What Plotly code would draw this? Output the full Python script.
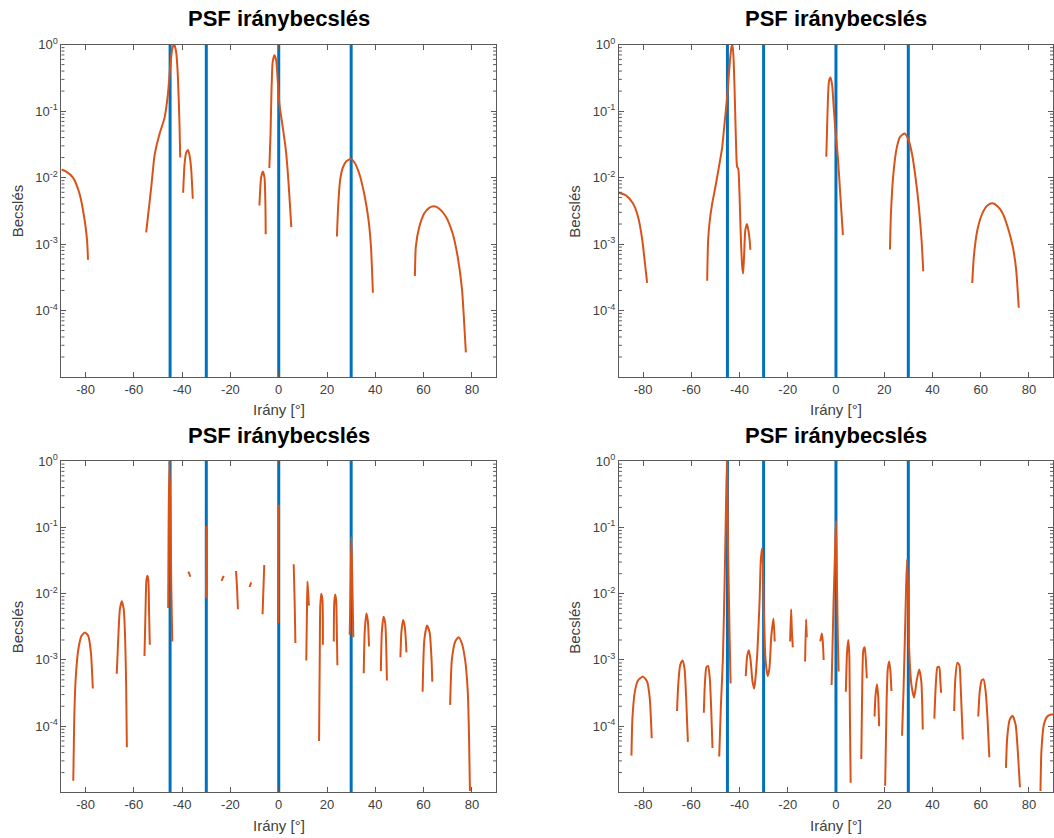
import plotly.graph_objects as go

# ---------------- data ----------------
doa = [-45, -30, 0, 30]                       # true directions (blue lines)
xtick_vals = [-80, -60, -40, -20, 0, 20, 40, 60, 80]
ytick_exps = [-4, -3, -2, -1, 0]
title_text = "PSF iránybecslés"
xlabel_text = "Irány [°]"
ylabel_text = "Becslés"

# top-left panel (segments separated by None)
tl_x = [-90, -88, -85.2, -82.5, -80.4, -79.4, -79.0, None,
        -54.9, -52.8, -51.4, -49.4, -47.3, -45.9, -45.0, -44.1, -43.3, -42.5, -41.8, -41.1, -40.8, None,
        -39.6, -39.0, -38.3, -37.6, -37.0, -36.3, -35.6, None,
        -8.0, -7.3, -6.6, -5.9, -5.5, -5.4, None,
        -3.9, -3.4, -3.0, -2.5, -1.8, -1.1, -0.4, 0.3, 1.7, 3.0, 4.0, 4.7, 5.2, None,
        24.1, 24.6, 25.4, 26.5, 27.9, 29.9, 31.3, 33.4, 35.4, 37.2, 38.2, 39.0, None,
        56.4, 56.8, 58.2, 60.3, 62.3, 64.4, 66.5, 69.2, 72.0, 74.1, 75.9, 76.8, 77.5]
tl_y = [0.0132, 0.0123, 0.010, 0.0057, 0.0023, 0.00115, 0.00058, None,
        0.0015, 0.0072, 0.022, 0.045, 0.079, 0.18, 0.44, 0.87, 1.0, 0.78, 0.35, 0.063, 0.02, None,
        0.0059, 0.016, 0.024, 0.026, 0.022, 0.014, 0.0048, None,
        0.0038, 0.010, 0.0123, 0.010, 0.0036, 0.0014, None,
        0.0139, 0.045, 0.2, 0.55, 0.69, 0.59, 0.28, 0.125, 0.056, 0.025, 0.009, 0.0036, 0.0018, None,
        0.0013, 0.0036, 0.009, 0.014, 0.0175, 0.019, 0.017, 0.0113, 0.0057, 0.0023, 0.00092, 0.000185, None,
        3.3e-4, 9.2e-4, 0.0018, 0.0029, 0.0035, 0.0037, 0.0034, 0.0026, 0.00145, 6.5e-4, 2.1e-4, 6.6e-5, 2.35e-5]

# top-right panel
tr_x = [-90, -87.1, -84.2, -82.1, -80.3, -79.2, -78.3, None,
        -53.4, -53.0, -52.3, -51.3, -50.0, -48.6, -47.2, -46.1, -45.0, -44.0, -43.3, -42.9, -42.4, -41.8,
        -41.3, -41.0, -40.5, -40.0, -39.5, -38.9, -38.5, -38.1, -37.6, -36.9, -36.3, -35.8, -35.5, None,
        -4.0, -3.45, -2.9, -2.3, -1.6, -0.9, -0.1, 0.8, 1.6, 2.3, 2.9, None,
        22.4, 22.8, 23.8, 25.2, 26.6, 28.5, 30.2, 31.6, 33.0, 34.4, 35.5, 36.2, None,
        56.5, 57.2, 58.6, 60.7, 62.8, 64.9, 67.0, 69.1, 71.2, 73.3, 74.7, 75.8]
tr_y = [0.0059, 0.0054, 0.0041, 0.0026, 0.00115, 5.1e-4, 2.6e-4, None,
        2.8e-4, 0.00116, 0.0023, 0.0041, 0.0072, 0.014, 0.028, 0.071, 0.18, 0.55, 0.93, 1.0, 0.55, 0.1,
        0.022, 0.0146, 0.0135, 0.0057, 0.00145, 4.7e-4, 3.6e-4, 6.6e-4, 0.0016, 0.002, 0.0016, 0.00116, 8.2e-4, None,
        0.0205, 0.11, 0.28, 0.32, 0.25, 0.11, 0.045, 0.02, 0.0072, 0.0029, 0.00136, None,
        8.3e-4, 0.0029, 0.0113, 0.028, 0.041, 0.046, 0.036, 0.022, 0.01, 0.0036, 0.00115, 3.9e-4, None,
        2.6e-4, 6.6e-4, 0.0016, 0.0029, 0.0038, 0.0041, 0.0037, 0.0029, 0.0018, 9.2e-4, 4.2e-4, 1.1e-4]

# bottom-left panel
bl_x = [-85.1, -84.7, -84.1, -83.0, -81.7, -80.3, -78.9, -77.8, -77.0, None,
        -67.1, -66.5, -65.8, -65.0, -64.2, -63.6, -63.2, -62.9, None,
        -55.6, -55.2, -54.8, -54.4, -54.0, -53.7, -53.4, None,
        -45.8, -45.6, -45.3, -44.9, -44.5, -44.1, None,
        -37.4, -36.6, None,
        -30.15, -29.95, None,
        -23.7, -22.8, None,
        -17.7, -17.3, -16.9, None,
        -12.1, -11.4, None,
        -6.7, -6.3, -6.0, None,
        -0.2, 0.0, None,
        6.2, 6.6, 6.9, None,
        11.4, 11.7, 11.9, 12.2, 12.5, None,
        16.7, 17.0, 17.2, 17.6, 18.1, 18.3, None,
        22.8, 23.0, 23.4, 23.8, 24.1, 24.3, None,
        29.4, 29.8, 30.1, 30.5, 30.9, None,
        35.2, 35.6, 36.3, 36.9, 37.4, None,
        42.3, 42.7, 43.4, 44.1, 44.8, None,
        50.4, 50.8, 51.5, 52.2, 52.9, None,
        59.6, 60.3, 61.4, 62.5, 63.3, 63.6, None,
        71.0, 71.7, 73.1, 74.5, 75.8, 77.2, 78.3, 78.8, 79.2]
bl_y = [1.5e-5, 1.3e-4, 5.2e-4, 0.00145, 0.0023, 0.0026, 0.0023, 0.0013, 3.7e-4, None,
        6.2e-4, 0.002, 0.0058, 0.0077, 0.0058, 0.002, 4.2e-4, 4.8e-5, None,
        0.00115, 0.0051, 0.016, 0.0186, 0.016, 0.0051, 0.0017, None,
        0.0061, 0.127, 1.0, 0.22, 0.013, 0.0019, None,
        0.0215, 0.018, None,
        0.0085, 0.105, None,
        0.0156, 0.0186, None,
        0.022, 0.013, 0.0058, None,
        0.0126, 0.0148, None,
        0.0049, 0.013, 0.027, None,
        0.0036, 0.22, None,
        0.0277, 0.0073, 0.0018, None,
        9.8e-4, 0.0058, 0.0152, 0.0102, 0.0066, None,
        6.0e-5, 0.0013, 0.0065, 0.01, 0.0081, 0.0017, None,
        0.0019, 0.0073, 0.0097, 0.0077, 0.0023, 8.3e-4, None,
        0.0024, 0.016, 0.072, 0.013, 0.0022, None,
        6.3e-4, 0.0026, 0.005, 0.0039, 0.0016, None,
        6.8e-4, 0.0026, 0.0045, 0.0036, 4.9e-4, None,
        0.0011, 0.0026, 0.004, 0.0032, 0.0013, None,
        3.3e-4, 0.002, 0.0033, 0.0026, 0.001, 4.7e-4, None,
        2.1e-4, 0.001, 0.0019, 0.0022, 0.0018, 0.001, 3.3e-4, 7.4e-5, 1.05e-5]

# bottom-right panel
br_x = [-84.8, -84.4, -83.4, -82.1, -80.0, -78.3, -77.2, -76.4, None,
        -65.9, -65.4, -64.6, -63.6, -62.8, -62.1, -61.4, None,
        -54.8, -54.3, -53.7, -53.0, -52.3, -51.7, -51.2, None,
        -48.4, -47.7, -46.9, -46.2, -45.7, -45.2, -44.7, -44.1, -43.7, None,
        -37.4, -36.8, -36.1, -35.4, -34.6, -33.9, -33.4, -32.6, -31.7, -31.2, -30.7, -30.3, -29.9,
        -29.2, -28.3, -27.6, -26.8, -25.9, -25.4, None,
        -19.0, -18.6, -18.3, -17.9, None,
        -12.8, -12.4, -12.1, None,
        -6.5, -5.9, -5.5, -5.1, None,
        -1.8, -1.0, -0.4, 0.0, 0.4, 0.8, 1.1, None,
        4.1, 4.6, 5.1, 5.5, 5.8, 6.1, None,
        10.5, 10.9, 11.4, 11.9, 12.4, 12.8, None,
        16.0, 16.4, 17.0, 17.5, 17.9, None,
        20.4, 21.0, 21.5, 22.1, 22.6, 23.0, None,
        27.4, 28.0, 28.6, 29.1, 29.5, 29.9, 30.3, 31.3, 32.4, 33.4, 34.5, 35.4, 36.0, None,
        40.8, 41.4, 42.1, 42.8, 43.3, 43.6, None,
        49.0, 49.5, 50.3, 51.2, 51.7, 52.6, None,
        59.0, 59.6, 60.4, 61.2, 62.1, 62.9, 63.6, None,
        70.5, 71.0, 72.0, 73.2, 74.5, 75.4, 76.3, None,
        84.8, 85.2, 86.2, 87.6, 89.2, 90.0]
br_y = [3.6e-5, 1.3e-4, 3.3e-4, 4.9e-4, 5.6e-4, 4.7e-4, 2.6e-4, 6.6e-5, None,
        1.7e-4, 4.2e-4, 8.3e-4, 9.8e-4, 7.4e-4, 2.6e-4, 5.8e-5, None,
        1.6e-4, 4.7e-4, 7.8e-4, 8.1e-4, 5.2e-4, 1.7e-4, 4.7e-5, None,
        3.5e-5, 2.1e-4, 0.001, 0.013, 0.127, 1.0, 0.04, 0.0023, 4.4e-4, None,
        5.7e-4, 0.00115, 0.0014, 0.001, 4.7e-4, 3.7e-4, 5.2e-4, 0.0013, 0.0073, 0.03, 0.048, 0.029, 0.0051,
        0.001, 5.7e-4, 7.4e-4, 0.0023, 0.0042, 0.0019, None,
        0.0019, 0.0058, 0.0029, 0.00155, None,
        9.5e-4, 0.0041, 0.0022, None,
        0.0019, 0.0025, 0.002, 0.001, None,
        4.2e-4, 0.0073, 0.04, 0.127, 0.016, 0.002, 6.7e-4, None,
        3.3e-4, 0.0013, 0.002, 0.0013, 1.3e-4, 1.4e-5, None,
        3.2e-5, 4.2e-4, 0.00145, 0.00155, 0.001, 5.3e-4, None,
        1.4e-4, 2.9e-4, 4.3e-4, 2.9e-4, 1.0e-4, None,
        1.26e-5, 2.3e-4, 7.4e-4, 9.5e-4, 6.6e-4, 3.4e-4, None,
        7.2e-5, 3.3e-4, 0.0023, 0.013, 0.033, 0.0102, 0.0016, 4.2e-4, 2.7e-4, 4.7e-4, 7.2e-4, 4.7e-4, 8.9e-5, None,
        1.3e-4, 4.2e-4, 7.8e-4, 7.8e-4, 4.7e-4, 3.2e-4, None,
        1.7e-4, 5.2e-4, 9.1e-4, 8.3e-4, 4.2e-4, 6.3e-5, None,
        1.4e-4, 3.3e-4, 4.9e-4, 5.1e-4, 3.3e-4, 1.2e-4, 3.4e-5, None,
        2.35e-5, 6.6e-5, 1.24e-4, 1.44e-4, 1.05e-4, 4.2e-5, 1.2e-5, None,
        1.05e-5, 4.2e-5, 1.05e-4, 1.4e-4, 1.5e-4, 1.5e-4]

panels = [(tl_x, tl_y), (tr_x, tr_y), (bl_x, bl_y), (br_x, br_y)]

# ---------------- layout geometry (pixels) ----------------
W, H = 1054, 838
col_px = [(61.5, 496.5), (619.5, 1054.0)]
row_px = [(36.0, 372.0), (457.0, 792.0)]

BLUE = "#0072BD"
ORANGE = "#D95319"
AXC = "#5a5a5a"
TXT = "#404040"
FONT = "Liberation Sans, Arial, Helvetica, sans-serif"

y_lo, y_hi = 1e-5, 1.0
blue_x, blue_y = [], []
for d in doa:
    blue_x += [d, d, None]
    blue_y += [y_lo, y_hi, None]

minor_vals = []
for e in range(-5, 0):
    for m in range(2, 10):
        minor_vals.append(m * 10.0 ** e)

fig = go.Figure()
layout = dict(width=W, height=H, margin=dict(l=0, r=0, t=0, b=0),
              paper_bgcolor="white", plot_bgcolor="white", showlegend=False,
              font=dict(family=FONT, color=TXT))
annotations = []
shapes = []

for i, (px, py) in enumerate(panels):
    r, c = divmod(i, 2)
    n = "" if i == 0 else str(i + 1)
    xa, ya = "x" + n, "y" + n
    x0, x1 = col_px[c]
    t0, t1 = row_px[r]
    xdom = [x0 / W, min(x1 / W, 1.0)]
    ydom = [1 - t1 / H, 1 - t0 / H]
    wpx = min(x1, W) - x0

    fig.add_trace(go.Scatter(x=blue_x, y=blue_y, mode="lines", xaxis=xa, yaxis=ya,
                             line=dict(color=BLUE, width=3), hoverinfo="skip"))
    fig.add_trace(go.Scatter(x=px, y=py, mode="lines", xaxis=xa, yaxis=ya,
                             line=dict(color=ORANGE, width=2, shape="spline", smoothing=0.6),
                             connectgaps=False))

    layout["xaxis" + n] = dict(domain=xdom, anchor=ya, range=[-90, 90],
                               tickmode="array", tickvals=xtick_vals,
                               ticktext=[str(v) for v in xtick_vals],
                               ticks="inside", ticklen=5, tickcolor=AXC,
                               showline=True, linecolor=AXC, linewidth=1, mirror="allticks",
                               showgrid=False, zeroline=False,
                               tickfont=dict(size=13, color=TXT, family=FONT))
    layout["yaxis" + n] = dict(domain=ydom, anchor=xa, type="log", range=[-5, 0],
                               tickmode="array", tickvals=[10.0 ** e for e in ytick_exps],
                               ticktext=["10<sup>%d</sup>" % e for e in ytick_exps],
                               ticks="inside", ticklen=5, tickcolor=AXC,
                               showline=True, linecolor=AXC, linewidth=1, mirror="allticks",
                               showgrid=False, zeroline=False,
                               tickfont=dict(size=13, color=TXT, family=FONT))

    # minor log ticks on both vertical sides (MATLAB box style)
    tl = 3.0 / wpx
    for v in minor_vals:
        for a, b in ((0, tl), (1 - tl, 1)):
            shapes.append(dict(type="line", xref=xa + " domain", yref=ya,
                               x0=a, x1=b, y0=v, y1=v,
                               line=dict(color=AXC, width=1), layer="above"))

    annotations.append(dict(text="<b>%s</b>" % title_text, xref="paper", yref="paper",
                            x=(x0 + min(x1, W)) / 2 / W, y=1 - (t0 - 26) / H,
                            xanchor="center", yanchor="middle",
                            showarrow=False, font=dict(size=22, color="black", family=FONT)))
    annotations.append(dict(text=xlabel_text, xref="paper", yref="paper",
                            x=(x0 + min(x1, W)) / 2 / W, y=1 - (t1 + 33) / H,
                            xanchor="center", yanchor="middle",
                            showarrow=False, font=dict(size=15, color=TXT, family=FONT)))
    annotations.append(dict(text=ylabel_text, xref="paper", yref="paper", textangle=-90,
                            x=(x0 - 44) / W, y=1 - (t0 + t1) / 2 / H,
                            xanchor="center", yanchor="middle",
                            showarrow=False, font=dict(size=15, color=TXT, family=FONT)))

layout["annotations"] = annotations
layout["shapes"] = shapes
fig.update_layout(**layout)
fig.write_html("out.html")
